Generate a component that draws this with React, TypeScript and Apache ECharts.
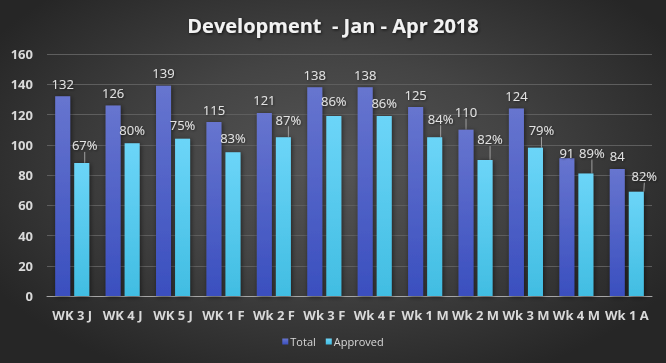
import React, { useEffect, useRef } from "react";
import * as echarts from "echarts";

const categories = ["WK 3 J", "WK 4 J", "WK 5 J", "WK 1 F", "Wk 2 F", "Wk 3 F", "Wk 4 F", "Wk 1 M", "Wk 2 M", "Wk 3 M", "Wk 4 M", "Wk 1 A"];
const totalValues = [132, 126, 139, 115, 121, 138, 138, 125, 110, 124, 91, 84];
const approvedValues = [88, 101, 104, 95, 105, 119, 119, 105, 90, 98, 81, 69];
const approvedPct = ["67%", "80%", "75%", "83%", "87%", "86%", "86%", "84%", "82%", "79%", "89%", "82%"];
const yTicks = [0, 20, 40, 60, 80, 100, 120, 140, 160];

// label displacement (style only)
const totalLabelShift = [0, 0, 0, 0, 0, 0, 0, -1, 5, 0, -7, 0];
const approvedLabelShift = [5, 1, 1, 2, 5, 3, 1, 6, 8, 5, 8, 3];
const approvedLabelDx = [3, 0, 0, 0, 5, 0, 0, 6, 5, 6, 6, 8];
const approvedHasLine = [true, false, false, false, true, false, false, true, true, true, true, true];
const totalHasLine = [false, false, false, false, false, false, false, false, true, false, false, false];

export default function App() {
  const ref = useRef<HTMLDivElement>(null);
  useEffect(() => {
    if (!ref.current) return;
    const chart = echarts.init(ref.current, null, { renderer: "svg" });
    const labelColor = "#d9d9d9";
    const dataLabel = {
      show: true,
      position: "top",
      distance: 6,
      color: "#e3e3e3",
      fontFamily: "Open Sans",
      fontSize: 13,
      textShadowColor: "rgba(0,0,0,0.5)",
      textShadowBlur: 2,
      textShadowOffsetX: 1,
      textShadowOffsetY: 1,
    };
    chart.setOption({
      animation: false,
      backgroundColor: "transparent",
      title: {
        text: "Development  - Jan - Apr 2018",
        left: "center",
        top: 10,
        textStyle: {
          color: "#f2f2f2",
          fontFamily: "Open Sans",
          fontWeight: "bold",
          fontSize: 20,
          textShadowColor: "rgba(0,0,0,0.7)",
          textShadowBlur: 3,
          textShadowOffsetX: 1,
          textShadowOffsetY: 1,
        },
      },
      legend: {
        bottom: 11,
        left: "center",
        icon: "rect",
        itemWidth: 6,
        itemHeight: 6,
        itemGap: 10,
        textStyle: { color: labelColor, fontFamily: "Open Sans", fontSize: 11, padding: [0, 0, 0, -3] },
        data: ["Total", "Approved"],
      },
      grid: { left: 47, right: 14, top: 54, bottom: 67 },
      xAxis: {
        type: "category",
        data: categories,
        axisTick: { show: false },
        axisLine: { lineStyle: { color: "#a6a6a6", width: 1 } },
        axisLabel: {
          color: labelColor,
          fontFamily: "Open Sans",
          fontWeight: "bold",
          fontSize: 13,
          margin: 12,
          interval: 0,
        },
      },
      yAxis: {
        type: "value",
        min: yTicks[0],
        max: yTicks[yTicks.length - 1],
        interval: 20,
        axisLine: { show: false },
        axisTick: { show: false },
        splitLine: { lineStyle: { color: "#5e5e5e", width: 1 } },
        axisLabel: {
          color: labelColor,
          fontFamily: "Open Sans",
          fontWeight: "bold",
          fontSize: 13,
          margin: 14,
        },
      },
      series: [
        {
          name: "Total",
          type: "bar",
          barWidth: 15,
          barGap: "27%",
          data: totalValues.map((v, i) => ({
            value: v,
            labelLine: { show: totalHasLine[i] },
          })),
          itemStyle: {
            color: new echarts.graphic.LinearGradient(0, 0, 0, 1, [
              { offset: 0, color: "#6775cf" },
              { offset: 1, color: "#3a4fbf" },
            ]),
            shadowColor: "rgba(0,0,0,0.55)",
            shadowBlur: 5,
            shadowOffsetX: 1,
            shadowOffsetY: 1,
          },
          label: dataLabel,
          labelLine: { show: true, lineStyle: { color: "#a0a0a0", width: 1 } },
          labelLayout: (p: any) => ({ dy: -totalLabelShift[p.dataIndex] }),
        },
        {
          name: "Approved",
          type: "bar",
          barWidth: 15,
          data: approvedValues.map((v, i) => ({
            value: v,
            labelLine: { show: approvedHasLine[i] },
          })),
          itemStyle: {
            color: new echarts.graphic.LinearGradient(0, 0, 0, 1, [
              { offset: 0, color: "#6cd5f8" },
              { offset: 1, color: "#41bde2" },
            ]),
            shadowColor: "rgba(0,0,0,0.55)",
            shadowBlur: 5,
            shadowOffsetX: 1,
            shadowOffsetY: 1,
          },
          label: { ...dataLabel, formatter: (p: any) => approvedPct[p.dataIndex] },
          labelLine: { show: true, lineStyle: { color: "#a0a0a0", width: 1 } },
          labelLayout: (p: any) => ({
            dy: -approvedLabelShift[p.dataIndex],
            dx: approvedLabelDx[p.dataIndex],
          }),
        },
      ],
    });
    return () => chart.dispose();
  }, []);
  return (
    <div
      style={{
        position: "fixed",
        left: 0,
        top: 0,
        width: 666,
        height: 363,
        background: "radial-gradient(ellipse 60% 65% at 50% 45%, #555555 0%, #444444 45%, #262626 100%)",
      }}
    >
      <div ref={ref} style={{ width: 666, height: 363 }} />
    </div>
  );
}
